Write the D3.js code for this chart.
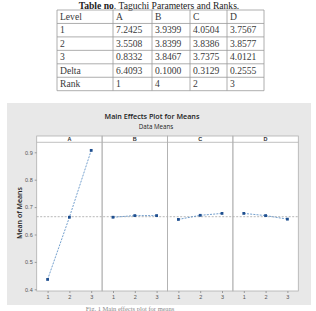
<!DOCTYPE html>
<html><head><meta charset="utf-8">
<script src="https://cdn.jsdelivr.net/npm/d3@7"></script>
<style>html,body{margin:0;padding:0;background:#fff;overflow:hidden}</style>
</head><body>
<svg id="c" width="316" height="311"></svg>
<script>
// ---- table data ----
const tableHeader = ["Level", "A", "B", "C", "D"];
const tableRows = [
  ["1", "7.2425", "3.9399", "4.0504", "3.7567"],
  ["2", "3.5508", "3.8399", "3.8386", "3.8577"],
  ["3", "0.8332", "3.8467", "3.7375", "4.0121"],
  ["Delta", "6.4093", "0.1000", "0.3129", "0.2555"],
  ["Rank", "1", "4", "2", "3"]
];
// ---- chart data ----
const factors = ["A", "B", "C", "D"];
const levels = ["1", "2", "3"];
const meansA = [0.436, 0.663, 0.907];
const meansB = [0.663, 0.669, 0.669];
const meansC = [0.655, 0.670, 0.677];
const meansD = [0.677, 0.669, 0.656];
const grandMean = 0.665;
const yTicks = [0.4, 0.5, 0.6, 0.7, 0.8, 0.9];

const svg = d3.select("#c");

// ---- table ----
const colX = d3.scaleOrdinal().domain(d3.range(5)).range([57, 113, 152, 190, 227]);
const tableRight = 264, rowH = 13.45, tableTop = 10;
const allRows = [tableHeader].concat(tableRows);
svg.append("text").attr("x", 159).attr("y", 8.5).attr("text-anchor", "middle")
  .attr("font-family", "Liberation Serif, Times New Roman, serif").attr("font-size", 9.6).attr("fill", "#222")
  .call(t => { t.append("tspan").attr("font-weight", "bold").text("Table no"); t.append("tspan").text(". Taguchi Parameters and Ranks."); });
const tg = svg.append("g");
allRows.forEach((row, r) => {
  row.forEach((cell, c) => {
    tg.append("text").attr("x", colX(c) + 3).attr("y", tableTop + r * rowH + 10)
      .attr("font-family", "Liberation Serif, Times New Roman, serif").attr("font-size", 9.6).attr("fill", "#3a3a3a").text(cell);
  });
});
for (let r = 0; r <= allRows.length; r++) {
  tg.append("line").attr("x1", 57).attr("x2", tableRight).attr("y1", tableTop + r * rowH).attr("y2", tableTop + r * rowH)
    .attr("stroke", "#999").attr("stroke-width", 0.8);
}
[0,1,2,3,4].forEach(c => tg.append("line").attr("x1", colX(c)).attr("x2", colX(c)).attr("y1", tableTop).attr("y2", tableTop + allRows.length * rowH).attr("stroke", "#999").attr("stroke-width", 0.8));
tg.append("line").attr("x1", tableRight).attr("x2", tableRight).attr("y1", tableTop).attr("y2", tableTop + allRows.length * rowH).attr("stroke", "#999").attr("stroke-width", 0.8);

// ---- chart ----
svg.append("rect").attr("x", 7).attr("y", 103).attr("width", 304).attr("height", 202).attr("fill", "#e8e8e8");
svg.append("text").attr("x", 152).attr("y", 119).attr("text-anchor", "middle")
  .attr("font-family", "Open Sans, Liberation Sans, sans-serif").attr("font-size", 7.2).attr("font-weight", 600).attr("fill", "#222").text("Main Effects Plot for Means");
svg.append("text").attr("x", 156).attr("y", 129).attr("text-anchor", "middle")
  .attr("font-family", "Open Sans, Liberation Sans, sans-serif").attr("font-size", 6.2).attr("fill", "#222").text("Data Means");

const panelX = d3.scaleBand().domain(factors).range([36.7, 298.3]).padding(0);
const stripTop = 136, panelTop = 142.3, panelBottom = 291;
const y = d3.scaleLinear().domain([0.4, 0.9]).range([289.3, 152.3]);
const x = d3.scalePoint().domain(levels).range([0, panelX.bandwidth()]).padding(0.5);
const series = [meansA, meansB, meansC, meansD];

// panel backgrounds
svg.append("rect").attr("x", panelX.range()[0]).attr("y", stripTop).attr("width", panelX.range()[1] - panelX.range()[0])
  .attr("height", panelBottom - stripTop).attr("fill", "#fff");

// grand mean reference line
svg.append("line").attr("x1", panelX.range()[0]).attr("x2", panelX.range()[1]).attr("y1", y(grandMean)).attr("y2", y(grandMean))
  .attr("stroke", "#9a9a9a").attr("stroke-width", 0.7).attr("stroke-dasharray", "2,1.5");

factors.forEach((f, i) => {
  const g = svg.append("g").attr("transform", `translate(${panelX(f)},0)`);
  g.append("rect").attr("x", 0).attr("y", stripTop).attr("width", panelX.bandwidth()).attr("height", panelBottom - stripTop)
    .attr("fill", "none").attr("stroke", "#b0b0b0").attr("stroke-width", 0.8);
  g.append("line").attr("x1", 0).attr("x2", panelX.bandwidth()).attr("y1", panelTop).attr("y2", panelTop).attr("stroke", "#b0b0b0").attr("stroke-width", 0.8);
  g.append("text").attr("x", panelX.bandwidth() / 2).attr("y", 141).attr("text-anchor", "middle")
    .attr("font-family", "Liberation Sans, sans-serif").attr("font-size", 5.5).attr("font-weight", "bold").attr("fill", "#333").text(f);
  const data = levels.map((l, k) => ({ l, v: series[i][k] }));
  g.append("path").datum(data).attr("fill", "none").attr("stroke", "#4f86c0").attr("stroke-width", 0.8).attr("stroke-dasharray", "2,1.2")
    .attr("d", d3.line().x(d => x(d.l)).y(d => y(d.v)));
  g.selectAll("rect.pt").data(data).enter().append("rect").attr("class", "pt")
    .attr("x", d => x(d.l) - 1.4).attr("y", d => y(d.v) - 1.4).attr("width", 2.8).attr("height", 2.8).attr("fill", "#1f4f8f");
  const xa = g.append("g").attr("transform", `translate(0,${panelBottom})`)
    .call(d3.axisBottom(x).tickSize(2).tickPadding(2));
  xa.select(".domain").remove();
  xa.selectAll("line").attr("stroke", "#999");
  xa.selectAll("text").attr("font-family", "Liberation Sans, sans-serif").attr("font-size", 5.5).attr("fill", "#555");
});

const ya = svg.append("g").attr("transform", `translate(${panelX.range()[0]},0)`)
  .call(d3.axisLeft(y).tickValues(yTicks).tickFormat(d3.format(".1f")).tickSize(2).tickPadding(2));
ya.select(".domain").remove();
ya.selectAll("line").attr("stroke", "#999");
ya.selectAll("text").attr("font-family", "Liberation Sans, sans-serif").attr("font-size", 5.5).attr("fill", "#555");

svg.append("text").attr("transform", "translate(21.5,213) rotate(-90)").attr("text-anchor", "middle")
  .attr("font-family", "Open Sans, Liberation Sans, sans-serif").attr("font-size", 7).attr("font-weight", 600).attr("fill", "#222").text("Mean of Means");

// caption at the bottom edge
svg.append("text").attr("x", 130).attr("y", 310.5).attr("text-anchor", "middle")
  .attr("font-family", "Liberation Serif, serif").attr("font-size", 6.5).attr("fill", "#888").text("Fig. 1 Main effects plot for means");
</script>
</body></html>
